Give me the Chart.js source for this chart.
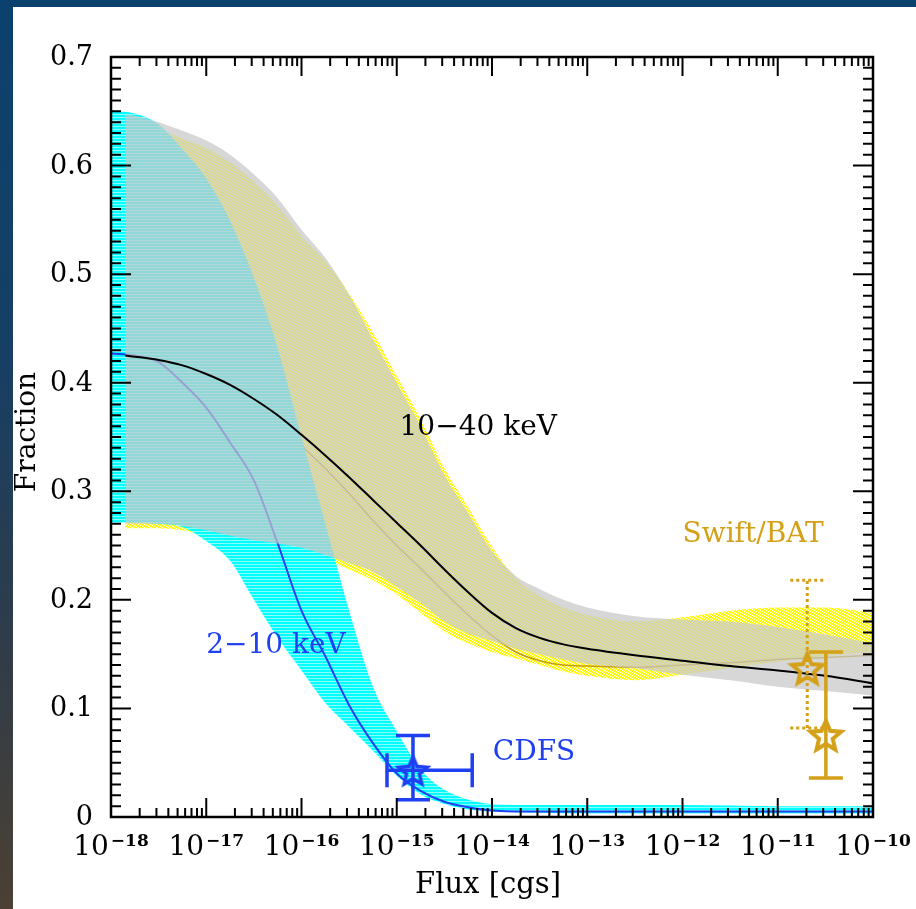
<!DOCTYPE html>
<html>
<head>
<meta charset="utf-8">
<script src="https://cdn.jsdelivr.net/npm/chart.js@4.4.0/dist/chart.umd.min.js"></script>
<style>
  html, body { margin: 0; padding: 0; width: 916px; height: 909px; overflow: hidden;
    background: linear-gradient(180deg, #0b416d 0%, #173f63 40%, #2f3c4a 70%, #4b4033 100%); }
  #wrap { position: absolute; left: 13px; top: 7px; width: 903px; height: 902px; background: #fff; }
</style>
</head>
<body>
<div id="wrap"><canvas id="chart"></canvas></div>
<script>
// -------------------- Data (flux given as log10 exponent, cgs) --------------------
// 2-10 keV band + model line
const gridA  = [-18, -17.75, -17.5, -17.25, -17, -16.75, -16.5, -16.25, -16, -15.75, -15.5, -15.25, -15, -14.75, -14.5, -14.25, -14, -13.5, -13, -12, -11, -10];
const cyanHi = [0.651, 0.648, 0.638, 0.615, 0.588, 0.549, 0.497, 0.432, 0.350, 0.270, 0.190, 0.120, 0.079, 0.044, 0.025, 0.016, 0.012, 0.011, 0.011, 0.011, 0.010, 0.010];
const cyanLo = [0.271, 0.271, 0.270, 0.267, 0.254, 0.236, 0.200, 0.165, 0.135, 0.105, 0.083, 0.061, 0.038, 0.021, 0.012, 0.007, 0.005, 0.004, 0.003, 0.003, 0.003, 0.003];
const blue2_10 = [0.427, 0.425, 0.419, 0.400, 0.377, 0.345, 0.310, 0.252, 0.190, 0.148, 0.103, 0.068, 0.040, 0.024, 0.014, 0.009, 0.006, 0.005, 0.005, 0.005, 0.005, 0.005];

// 10-40 keV (gray) and Swift/BAT (yellow) bands + model lines
const gridB    = [-17.85, -17.75, -17.5, -17.25, -17, -16.75, -16.5, -16.25, -16, -15.75, -15.5, -15.25, -15, -14.75, -14.5, -14.25, -14, -13.75, -13.5, -13.25, -13, -12.5, -12, -11.5, -11, -10.5, -10];
const grayHi   = [0.647, 0.646, 0.640, 0.632, 0.623, 0.610, 0.592, 0.570, 0.541, 0.515, 0.481, 0.440, 0.400, 0.360, 0.315, 0.280, 0.245, 0.222, 0.210, 0.200, 0.193, 0.185, 0.182, 0.180, 0.175, 0.168, 0.160];
const grayLo   = [0.270, 0.270, 0.270, 0.268, 0.264, 0.259, 0.255, 0.252, 0.248, 0.241, 0.234, 0.226, 0.212, 0.197, 0.180, 0.169, 0.162, 0.155, 0.150, 0.145, 0.141, 0.137, 0.131, 0.126, 0.120, 0.116, 0.112];
const yellowHi = [0.640, 0.639, 0.633, 0.625, 0.616, 0.603, 0.585, 0.563, 0.535, 0.512, 0.482, 0.446, 0.406, 0.366, 0.321, 0.285, 0.249, 0.220, 0.204, 0.193, 0.186, 0.180, 0.184, 0.190, 0.193, 0.193, 0.188];
const yellowLo = [0.266, 0.266, 0.266, 0.264, 0.259, 0.254, 0.250, 0.246, 0.242, 0.236, 0.228, 0.218, 0.205, 0.188, 0.171, 0.160, 0.152, 0.146, 0.140, 0.134, 0.130, 0.126, 0.131, 0.137, 0.143, 0.148, 0.152];
const black10_40 = [0.425, 0.424, 0.421, 0.416, 0.408, 0.398, 0.385, 0.370, 0.352, 0.333, 0.313, 0.292, 0.271, 0.250, 0.228, 0.207, 0.188, 0.174, 0.165, 0.159, 0.155, 0.149, 0.144, 0.139, 0.135, 0.130, 0.123];
const goldBAT    = [0.425, 0.423, 0.420, 0.414, 0.405, 0.393, 0.378, 0.361, 0.342, 0.321, 0.298, 0.273, 0.250, 0.229, 0.207, 0.186, 0.167, 0.152, 0.144, 0.140, 0.139, 0.138, 0.140, 0.142, 0.145, 0.147, 0.149];

// measured points
const cdfsFlux = [1.48e-15], cdfsFrac = [0.043];
const cdfsFluxLo = [7.9e-16], cdfsFluxHi = [6.2e-15];
const cdfsFracLo = [0.016], cdfsFracHi = [0.075];

const batFlux = [2.04e-11, 3.2e-11], batFrac = [0.137, 0.0755];
const batFracLo = [0.082, 0.036], batFracHi = [0.218, 0.152];
const batDotted = [true, false];

// axis ticks
const yTickLabels = ['0', '0.1', '0.2', '0.3', '0.4', '0.5', '0.6', '0.7'];
const xTickExp = [-18, -17, -16, -15, -14, -13, -12, -11, -10];

// -------------------- Colours / patterns --------------------
const BLUE = '#1f3ff2';
const GOLD = '#d4a017';
const FONT = '"DejaVu Serif", serif';

function makePattern(w, h, paint) {
  const c = document.createElement('canvas');
  c.width = w; c.height = h;
  const g = c.getContext('2d');
  paint(g);
  return g.createPattern(c, 'repeat');
}
const cyanPat = makePattern(1, 3, g => {
  g.fillStyle = '#00ffff'; g.fillRect(0, 0, 1, 3);
  g.fillStyle = '#8affff'; g.fillRect(0, 2, 1, 1);
});
const yellowPat = makePattern(3, 3, g => {
  g.fillStyle = '#ffffff'; g.fillRect(0, 0, 3, 3);
  g.fillStyle = '#ffff00';
  for (let i = 0; i < 3; i++) for (let j = 0; j < 3; j++) if ((i + j) % 3 !== 0) g.fillRect(i, j, 1, 1);
});
const GRAY_FILL = 'rgba(200, 200, 200, 0.72)';

function starImage(color, r, lw) {
  const s = Math.ceil(2 * r + 2 * lw);
  const c = document.createElement('canvas');
  c.width = s; c.height = s;
  const g = c.getContext('2d');
  g.translate(s / 2, s / 2 + r * 0.1);
  g.beginPath();
  for (let i = 0; i < 10; i++) {
    const a = -Math.PI / 2 + i * Math.PI / 5;
    const rr = i % 2 ? r * 0.45 : r;
    g.lineTo(rr * Math.cos(a), rr * Math.sin(a));
  }
  g.closePath();
  g.lineWidth = lw; g.strokeStyle = color; g.lineJoin = 'miter';
  g.stroke();
  return c;
}

const pts = (grid, vals) => grid.map((e, i) => ({ x: Math.pow(10, e), y: vals[i] }));
const line = (data, color, width) => ({
  data, borderColor: color, borderWidth: width, pointRadius: 0, fill: false,
  cubicInterpolationMode: 'monotone'
});
const bandTop = (data, fillStyle) => ({
  data, borderWidth: 0, pointRadius: 0, backgroundColor: fillStyle, fill: '+1',
  cubicInterpolationMode: 'monotone'
});
const bandBottom = (data) => ({
  data, borderWidth: 0, pointRadius: 0, fill: false, cubicInterpolationMode: 'monotone'
});

// -------------------- Decorations: frame, ticks, labels, error bars --------------------
const decorations = {
  id: 'decorations',
  afterDatasetsDraw(chart) {
    const { ctx, chartArea: a, scales: { x, y } } = chart;
    ctx.save();

    // error bars
    const vbar = (f, lo, hi, cap, dotted, color) => {
      const px = x.getPixelForValue(f), y1 = y.getPixelForValue(lo), y2 = y.getPixelForValue(hi);
      ctx.strokeStyle = color;
      ctx.lineWidth = dotted ? 3 : 3.5;
      ctx.setLineDash(dotted ? [3, 3] : []);
      ctx.beginPath();
      ctx.moveTo(px, y1); ctx.lineTo(px, y2);
      ctx.moveTo(px - cap, y1); ctx.lineTo(px + cap, y1);
      ctx.moveTo(px - cap, y2); ctx.lineTo(px + cap, y2);
      ctx.stroke();
    };
    const hbar = (lo, hi, v, cap, color) => {
      const x1 = x.getPixelForValue(lo), x2 = x.getPixelForValue(hi), py = y.getPixelForValue(v);
      ctx.strokeStyle = color; ctx.lineWidth = 3.5; ctx.setLineDash([]);
      ctx.beginPath();
      ctx.moveTo(x1, py); ctx.lineTo(x2, py);
      ctx.moveTo(x1, py - cap); ctx.lineTo(x1, py + cap);
      ctx.moveTo(x2, py - cap); ctx.lineTo(x2, py + cap);
      ctx.stroke();
    };
    cdfsFlux.forEach((f, i) => {
      vbar(f, cdfsFracLo[i], cdfsFracHi[i], 17, false, BLUE);
      hbar(cdfsFluxLo[i], cdfsFluxHi[i], cdfsFrac[i], 17, BLUE);
    });
    batFlux.forEach((f, i) => vbar(f, batFracLo[i], batFracHi[i], 17, batDotted[i], GOLD));
    ctx.setLineDash([]);

    // inward ticks
    ctx.strokeStyle = '#000'; ctx.lineWidth = 2;
    ctx.beginPath();
    for (let i = 0; i <= 70; i++) {
      const py = y.getPixelForValue(i / 100);
      const len = i % 10 === 0 ? 20 : 10;
      ctx.moveTo(a.left, py); ctx.lineTo(a.left + len, py);
      ctx.moveTo(a.right, py); ctx.lineTo(a.right - len, py);
    }
    for (let n = -18; n <= -10; n++) {
      for (let k = 1; k <= 9; k++) {
        if (n === -10 && k > 1) break;
        const px = x.getPixelForValue(k * Math.pow(10, n));
        const len = k === 1 ? 19 : 9;
        ctx.moveTo(px, a.bottom); ctx.lineTo(px, a.bottom - len);
        ctx.moveTo(px, a.top); ctx.lineTo(px, a.top + len);
      }
    }
    ctx.stroke();
    ctx.lineWidth = 2.5;
    ctx.strokeRect(a.left, a.top, a.right - a.left, a.bottom - a.top);

    // y tick labels
    ctx.fillStyle = '#000';
    ctx.font = '27px ' + FONT;
    ctx.textAlign = 'right'; ctx.textBaseline = 'middle';
    yTickLabels.forEach((t, i) => ctx.fillText(t, a.left - 18, y.getPixelForValue(i / 10) + 1));

    // x tick labels 10^n
    ctx.textAlign = 'left'; ctx.textBaseline = 'alphabetic';
    xTickExp.forEach(n => {
      const px = x.getPixelForValue(Math.pow(10, n));
      const sup = '\u2212' + Math.abs(n);
      ctx.font = '28px ' + FONT;
      const wb = ctx.measureText('10').width;
      ctx.font = 'bold 17px ' + FONT;
      const ws = ctx.measureText(sup).width;
      const x0 = px - (wb + 2 + ws) / 2;
      ctx.font = '28px ' + FONT;
      ctx.fillText('10', x0, a.bottom + 38);
      ctx.font = 'bold 17px ' + FONT;
      ctx.fillText(sup, x0 + wb + 2, a.bottom + 29);
    });

    // axis titles
    ctx.font = '29px ' + FONT;
    ctx.textAlign = 'center'; ctx.textBaseline = 'middle';
    ctx.fillText('Flux [cgs]', (a.left + a.right) / 2 - 4, a.bottom + 68);
    ctx.save();
    ctx.translate(15, 425);
    ctx.rotate(-Math.PI / 2);
    ctx.font = '28px ' + FONT;
    ctx.fillText('Fraction', 0, 0);
    ctx.restore();

    // in-plot labels
    ctx.font = '28px ' + FONT;
    ctx.textAlign = 'left'; ctx.textBaseline = 'middle';
    const label = (txt, f, v, color) => {
      ctx.fillStyle = color;
      ctx.fillText(txt, x.getPixelForValue(f), y.getPixelForValue(v));
    };
    label('10\u221240 keV', 1.07e-15, 0.359, '#000');
    label('2\u221210 keV', 1.0e-17, 0.158, BLUE);
    label('CDFS', 1.02e-14, 0.059, BLUE);
    label('Swift/BAT', 1.0e-12, 0.260, GOLD);

    ctx.restore();
  }
};

// -------------------- Chart --------------------
// datasets listed top-most first
const ctx = document.getElementById('chart').getContext('2d');
const chart = new Chart(ctx, {
  type: 'line',
  data: {
    datasets: [
      {
        data: cdfsFlux.map((f, i) => ({ x: f, y: cdfsFrac[i] })),
        showLine: false, pointRadius: 10, pointStyle: starImage(BLUE, 15, 3.5)
      },
      {
        data: batFlux.map((f, i) => ({ x: f, y: batFrac[i] })),
        showLine: false, pointRadius: 10, pointStyle: starImage(GOLD, 16, 4)
      },
      line(pts(gridB, black10_40), '#000', 2),
      bandTop(pts(gridB, grayHi), GRAY_FILL),
      bandBottom(pts(gridB, grayLo)),
      line(pts(gridA, blue2_10), BLUE, 2),
      bandTop(pts(gridA, cyanHi), cyanPat),
      bandBottom(pts(gridA, cyanLo)),
      line(pts(gridB, goldBAT), '#c89a10', 1.5),
      bandTop(pts(gridB, yellowHi), yellowPat),
      bandBottom(pts(gridB, yellowLo))
    ]
  },
  options: {
    responsive: true,
    maintainAspectRatio: false,
    animation: false,
    layout: { padding: { left: 98, top: 50, right: 43, bottom: 92 } },
    plugins: {
      legend: { display: false },
      tooltip: { enabled: false },
      filler: { drawTime: 'beforeDatasetDraw' }
    },
    scales: {
      x: { type: 'logarithmic', min: 1e-18, max: 1e-10, display: false },
      y: { type: 'linear', min: 0, max: 0.7, display: false }
    }
  },
  plugins: [decorations]
});
</script>
</body>
</html>
